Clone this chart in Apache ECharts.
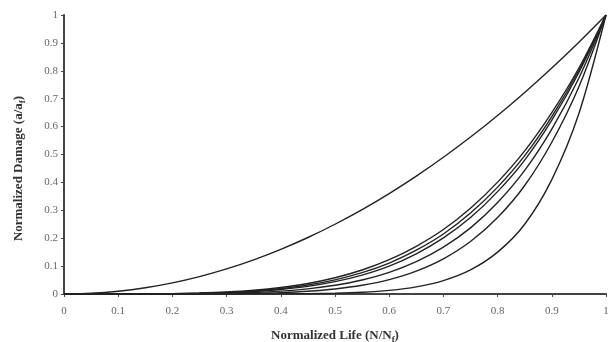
<!DOCTYPE html>
<html>
<head>
<meta charset="utf-8">
<script src="https://cdn.jsdelivr.net/npm/echarts@6/dist/echarts.min.js"></script>
<style>html,body{margin:0;padding:0;background:#fff;}#c{width:610px;height:342px;}</style>
</head>
<body>
<div id="c"></div>
<script>
// Normalized life N/Nf sample positions
const lifeX = [0,0.05,0.1,0.15,0.2,0.25,0.3,0.35,0.4,0.45,0.5,0.55,0.6,0.65,0.7,0.75,0.8,0.85,0.9,0.95,1];
// Normalized damage curves
const curveTop = [0,0.0025,0.01,0.0225,0.04,0.0625,0.09,0.1225,0.16,0.2025,0.25,0.3025,0.36,0.4225,0.49,0.5625,0.64,0.7225,0.81,0.9025,1];
const curveM1 = [0,0,0.0001,0.0004,0.0014,0.0034,0.0072,0.0135,0.0234,0.0378,0.0584,0.0861,0.123,0.171,0.231,0.307,0.401,0.513,0.650,0.810,1];
const curveM2 = [0,0,0.0001,0.0003,0.0010,0.0026,0.0056,0.0109,0.0195,0.0322,0.0508,0.0764,0.111,0.157,0.215,0.290,0.383,0.496,0.636,0.802,1];
const curveM3 = [0,0,0,0.0002,0.0007,0.0020,0.0044,0.0089,0.0162,0.0274,0.0442,0.0678,0.100,0.144,0.201,0.274,0.367,0.480,0.623,0.794,1];
const curveM4 = [0,0,0,0.0001,0.0003,0.0010,0.0024,0.0053,0.0102,0.0184,0.0313,0.0503,0.0778,0.116,0.168,0.237,0.328,0.443,0.591,0.774,1];
const curveM5 = [0,0,0,0,0.0001,0.0003,0.0009,0.0023,0.0049,0.0097,0.0180,0.0312,0.0516,0.0821,0.126,0.188,0.274,0.389,0.544,0.743,1];
const curveLow = [0,0,0,0,0,0,0,0.0001,0.0004,0.0011,0.0028,0.0062,0.0130,0.0256,0.0482,0.0864,0.150,0.250,0.410,0.647,1];
const curves = [curveTop, curveM1, curveM2, curveM3, curveM4, curveM5, curveLow];
const xTicks = ['0','0.1','0.2','0.3','0.4','0.5','0.6','0.7','0.8','0.9','1'];

const chart = echarts.init(document.getElementById('c'), null, {renderer:'canvas'});
const serif = '"Liberation Serif", "DejaVu Serif", serif';
chart.setOption({
  animation: false,
  backgroundColor: '#fff',
  grid: {left: 64, right: 4, top: 15, bottom: 48, containLabel: false, outerBoundsMode: 'none'},
  xAxis: {
    type: 'value', min: 0, max: 1, interval: 0.1,
    name: 'Normalized Life (N/N{s|f})',
    nameLocation: 'middle', nameGap: 34,
    nameTextStyle: {fontFamily: serif, fontWeight: 'bold', fontSize: 13, color: '#333',
      rich: {s: {fontFamily: serif, fontWeight: 'bold', fontSize: 9, color: '#333', padding: [7,0,0,0]}}},
    axisLine: {lineStyle: {color: '#444', width: 2}},
    axisTick: {length: 3, lineStyle: {color: '#444', width: 1}},
    splitLine: {show: false},
    axisLabel: {fontFamily: serif, fontSize: 11, color: '#666', margin: 12,
      formatter: function(v){ return xTicks[Math.round(v*10)]; }}
  },
  yAxis: {
    type: 'value', min: 0, max: 1, interval: 0.1,
    name: 'Normalized Damage (a/a{s|f})',
    nameLocation: 'middle', nameGap: 37, nameRotate: 90,
    nameTextStyle: {fontFamily: serif, fontWeight: 'bold', fontSize: 13, color: '#333', padding: [0,28,0,0],
      rich: {s: {fontFamily: serif, fontWeight: 'bold', fontSize: 9, color: '#333', padding: [7,0,0,0]}}},
    axisLine: {show: true, lineStyle: {color: '#444', width: 2}},
    axisTick: {show: true, length: 3, lineStyle: {color: '#444', width: 1}},
    splitLine: {show: false},
    axisLabel: {fontFamily: serif, fontSize: 11, color: '#666', margin: 6,
      formatter: function(v){ return String(Math.round(v*10)/10); }}
  },
  series: curves.map(function(c){
    return {
      type: 'line', smooth: 0.3, symbol: 'none',
      data: lifeX.map(function(x,i){ return [x, c[i]]; }),
      lineStyle: {color: '#222', width: 1.4}
    };
  })
});
</script>
</body>
</html>
